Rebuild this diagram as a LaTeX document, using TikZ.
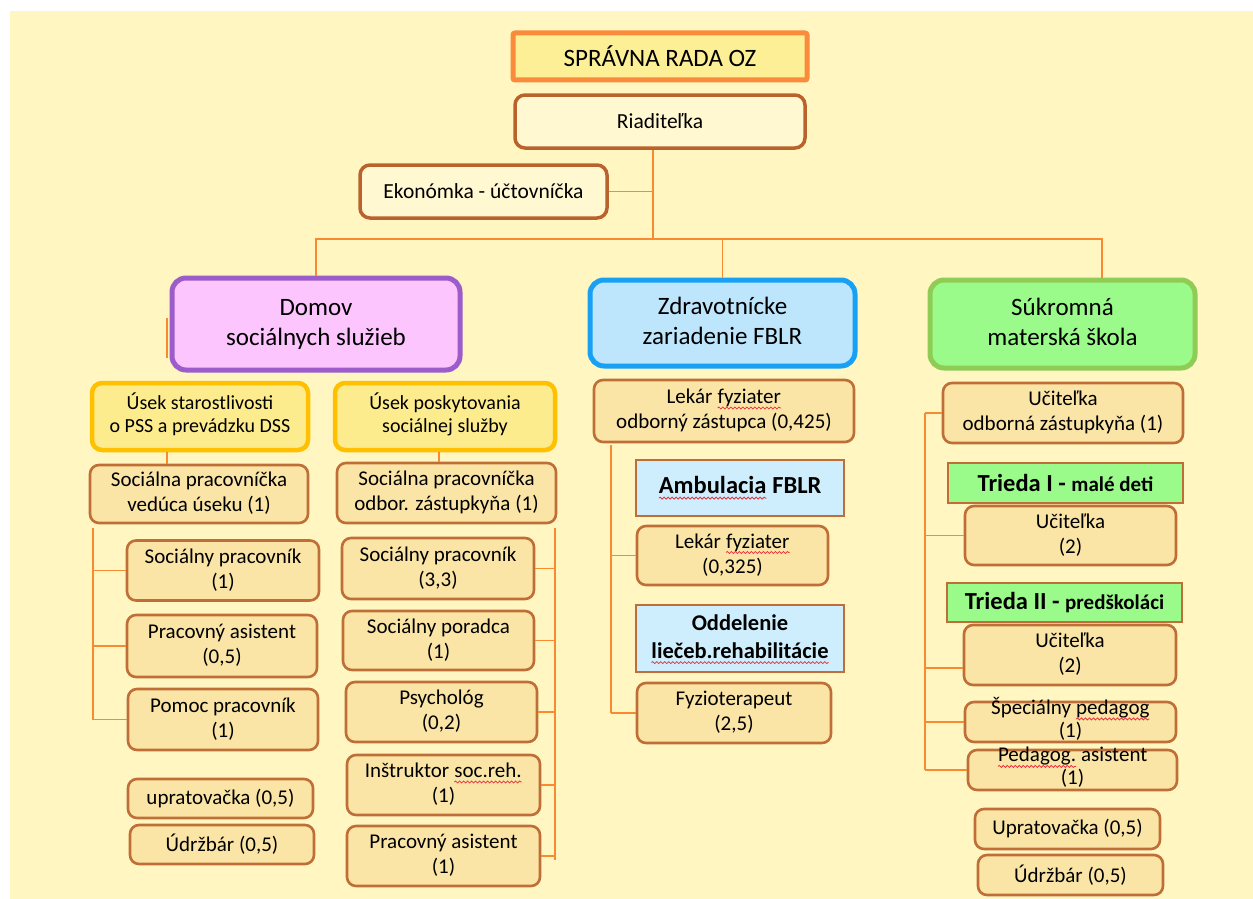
\documentclass[tikz,border=0pt]{standalone}
\usepackage{fontspec}
\setmainfont{Carlito}
\usepackage{xcolor}
\usetikzlibrary{decorations.pathmorphing}

\definecolor{bgyellow}{HTML}{FFF6C2}
\definecolor{linkorange}{HTML}{F98A30}
\definecolor{staffline}{HTML}{BF6E37}
\definecolor{stafffill}{HTML}{FAE5A6}
\definecolor{radaline}{HTML}{FA8B3C}
\definecolor{radafill}{HTML}{FDEF96}
\definecolor{riadline}{HTML}{B9622C}
\definecolor{riadfill}{HTML}{FFF8D0}
\definecolor{usekline}{HTML}{FFC000}
\definecolor{usekfill}{HTML}{FDEC8E}
\definecolor{domovline}{HTML}{9C5CC9}
\definecolor{domovfill}{HTML}{FCC5FE}
\definecolor{zdravline}{HTML}{18A1F4}
\definecolor{zdravfill}{HTML}{BDE5FB}
\definecolor{skolaline}{HTML}{8ECC55}
\definecolor{skolafill}{HTML}{9AFB8B}
\definecolor{oddfill}{HTML}{CFEEFD}
\definecolor{spellred}{HTML}{E8303A}

\newcommand\spellwave[1]{\tikz[baseline=(sw.base)]{%
	\node[draw=none, fill=none, inner sep=0pt, outer sep=0pt, minimum width=0pt, minimum height=0pt, text height=, text depth=, sharp corners] (sw) {#1};
	\draw[spellred, line width=0.8pt, sharp corners, decorate, decoration={snake, amplitude=1pt, segment length=4pt}] ([yshift=-4.5pt]sw.base west) -- ([yshift=-4.5pt]sw.base east);}}

\begin{document}
\begin{tikzpicture}[x=1pt, y=-1pt,
		link/.style={draw=linkorange, line width=1.8pt},
		staff/.style={draw=staffline, fill=stafffill, line width=2.6pt, rounded corners=9pt, inner sep=0pt, font=\fontsize{21}{25}\selectfont},
		tight/.style={staff, text height=14pt, text depth=6pt, font=\fontsize{21}{23}\selectfont},
		usekbox/.style={draw=usekline, fill=usekfill, line width=4.5pt, rounded corners=10pt, inner sep=0pt, font=\fontsize{20}{23}\selectfont},
		headbox/.style={line width=5pt, rounded corners=14pt, inner sep=0pt, font=\fontsize{25}{30}\selectfont},
		topbox/.style={draw=riadline, fill=riadfill, line width=3.5pt, rounded corners=10pt, inner sep=0pt, font=\fontsize{21.5}{25}\selectfont},
		unitbox/.style={draw=staffline, line width=2.6pt, inner sep=0pt}]
%		\draw[help lines, step=50] (0,0) grid (1253,899);
		\useasboundingbox (0,0) rectangle (1253,899);
		\fill[white] (0,0) rectangle (1253,899);
		\fill[bgyellow] (10,11) rectangle (1253,899);

		\node[draw=radaline, fill=radafill, line width=5pt, rounded corners=2pt, minimum width=294, minimum height=47, font=\fontsize{25}{28}\selectfont] (rada) at (660,56.5) {SPRÁVNA RADA OZ};
		\node[topbox, minimum width=290, minimum height=53] (riad) at (660,121.5) {Riaditeľka};
		\node[topbox, minimum width=247, minimum height=53] (ekon) at (483.5,191.5) {Ekonómka - účtovníčka};

		\node[headbox, draw=domovline, fill=domovfill, minimum width=288, minimum height=92] (domov) at (316,324) {\begin{tabular}{c} Domov \\ sociálnych služieb \end{tabular}};
		\node[headbox, draw=zdravline, fill=zdravfill, minimum width=265, minimum height=86] (zdrav) at (722.5,323) {\begin{tabular}{c} Zdravotnícke \\ zariadenie FBLR \end{tabular}};
		\node[headbox, draw=skolaline, fill=skolafill, minimum width=265, minimum height=88] (skola) at (1062.5,324) {\begin{tabular}{c} Súkromná \\ materská škola \end{tabular}};

		\node[usekbox, minimum width=216, minimum height=67] (usek1) at (200,416.5) {\begin{tabular}{c} Úsek starostlivosti \\ o PSS a prevádzku DSS \end{tabular}};
		\node[usekbox, minimum width=220, minimum height=67] (usek2) at (445,416.5) {\begin{tabular}{c} Úsek poskytovania \\ sociálnej služby \end{tabular}};
		\node[staff, minimum width=218, minimum height=58] (sp1) at (199,494) {\begin{tabular}{c} Sociálna pracovníčka \\ vedúca úseku (1) \end{tabular}};
		\node[staff, minimum width=219, minimum height=60] (sp2) at (446.5,493) {\begin{tabular}{c} Sociálna pracovníčka \\ odbor. zástupkyňa (1) \end{tabular}};

		\node[staff, minimum width=192, minimum height=60] (a1) at (223,570.5) {\begin{tabular}{c} Sociálny pracovník \\ (1) \end{tabular}};
		\node[staff, minimum width=190, minimum height=62] (a2) at (222,646) {\begin{tabular}{c} Pracovný asistent \\ (0,5) \end{tabular}};
		\node[staff, minimum width=190, minimum height=61] (a3) at (223,719.5) {\begin{tabular}{c} Pomoc pracovník \\ (1) \end{tabular}};
		\node[staff, minimum width=185, minimum height=39] (a4) at (220.5,798.5) {upratovačka (0,5)};
		\node[staff, minimum width=184, minimum height=39] (a5) at (222,844.5) {Údržbár (0,5)};

		\node[staff, minimum width=192, minimum height=61] (b1) at (438,568.5) {\begin{tabular}{c} Sociálny pracovník \\ (3,3) \end{tabular}};
		\node[staff, minimum width=191, minimum height=59] (b2) at (438.5,640.5) {\begin{tabular}{c} Sociálny poradca \\ (1) \end{tabular}};
		\node[staff, minimum width=191, minimum height=60] (b3) at (441.5,712) {\begin{tabular}{c} Psychológ \\ (0,2) \end{tabular}};
		\node[staff, minimum width=193, minimum height=60] (b4) at (443.5,785) {\begin{tabular}{c} Inštruktor \spellwave{soc.reh.} \\ (1) \end{tabular}};
		\node[staff, minimum width=193, minimum height=60] (b5) at (443.5,856) {\begin{tabular}{c} Pracovný asistent \\ (1) \end{tabular}};

		\node[staff, minimum width=260, minimum height=62] (lek1) at (724,411) {\begin{tabular}{c} Lekár \spellwave{fyziater} \\ odborný zástupca (0,425) \end{tabular}};
		\node[unitbox, fill=oddfill, minimum width=208, minimum height=56, font=\fontsize{24.5}{28}\selectfont\bfseries] (amb) at (740,488) {\spellwave{Ambulacia} FBLR};
		\node[staff, minimum width=191, minimum height=59] (lek2) at (732.5,555.5) {\begin{tabular}{c} Lekár \spellwave{fyziater} \\ (0,325) \end{tabular}};
		\node[unitbox, fill=oddfill, minimum width=208, minimum height=67, font=\fontsize{22.5}{28}\selectfont\bfseries] (odd) at (740,638.5) {\begin{tabular}{c} Oddelenie \\ \spellwave{liečeb.rehabilitácie} \end{tabular}};
		\node[staff, minimum width=194, minimum height=60] (fyz) at (734,713) {\begin{tabular}{c} Fyzioterapeut \\ (2,5) \end{tabular}};

		\node[staff, minimum width=240, minimum height=60] (uc1) at (1063,413) {\begin{tabular}{c} Učiteľka \\ odborná zástupkyňa (1) \end{tabular}};
		\node[unitbox, fill=skolafill, minimum width=235, minimum height=40, font=\bfseries] (t1) at (1065.5,483) {\fontsize{24.5}{28}\selectfont Trieda I - \fontsize{21}{28}\selectfont malé deti};
		\node[staff, minimum width=211, minimum height=59] (uc2) at (1070.5,535.5) {\begin{tabular}{c} Učiteľka \\ (2) \end{tabular}};
		\node[unitbox, fill=skolafill, minimum width=235, minimum height=39, font=\bfseries] (t2) at (1064.5,602.5) {\fontsize{24.5}{28}\selectfont Trieda II - \fontsize{21}{28}\selectfont predškoláci};
		\node[staff, minimum width=212, minimum height=60] (uc3) at (1070,655) {\begin{tabular}{c} Učiteľka \\ (2) \end{tabular}};
		\node[tight, minimum width=211, minimum height=40] (sped) at (1070.5,722) {\begin{tabular}{c} Špeciálny \spellwave{pedagog} \\ (1) \end{tabular}};
		\node[tight, minimum width=209, minimum height=40] (pasis) at (1072.5,770) {\begin{tabular}{c} \spellwave{Pedagog.} asistent \\ (1) \end{tabular}};
		\node[staff, minimum width=185, minimum height=40] (upr) at (1067.5,829) {Upratovačka (0,5)};
		\node[staff, minimum width=185, minimum height=40] (udr) at (1070.5,875) {Údržbár (0,5)};

		\coordinate (hub) at (653,239);
		\coordinate (rjoin) at (1102,239);
		\draw[link] (riad.south -| hub) -- (hub);
		\draw[link] (ekon.east) -- (ekon.east -| hub);
		\draw[link] (domov.north) |- (rjoin) -- (rjoin |- skola.north);
		\draw[link] (zdrav.north) -- (zdrav.north |- hub);
		\draw[link] (167,318) -- (167,358);

		\draw[link] ([xshift=-33pt]usek1.south) -- ([xshift=-33pt]usek1.south |- sp1.north);
		\draw[link] ([xshift=-6pt]usek2.south) -- ([xshift=-6pt]usek2.south |- sp2.north);

		\coordinate (ltop) at (93,528);
		\coordinate (lbot) at (93,720);
		\draw[link] (ltop) -- (lbot);
		\foreach \n in {a1,a2,a3}
			\draw[link] (ltop |- \n.west) -- (\n.west);

		\coordinate (mtop) at (555,528);
		\coordinate (mbot) at (555,860);
		\draw[link] (mtop) -- (mbot);
		\foreach \n in {b1,b2,b3,b4,b5}
			\draw[link] (\n.east) -- (\n.east -| mtop);

		\coordinate (ztop) at (611,445);
		\coordinate (zbot) at (611,713);
		\draw[link] (ztop) -- (zbot);
		\foreach \n in {lek2,fyz}
			\draw[link] (ztop |- \n.west) -- (\n.west);

		\coordinate (rtop) at (925,413);
		\coordinate (rbot) at (925,770);
		\draw[link] (rtop) -- (rbot);
		\foreach \n in {uc1,uc2,sped,pasis}
			\draw[link] (rtop |- \n.west) -- (\n.west);
		\draw[link] ([yshift=-13pt]uc3.west -| rtop) -- ([yshift=-13pt]uc3.west);
\end{tikzpicture}
\end{document}
